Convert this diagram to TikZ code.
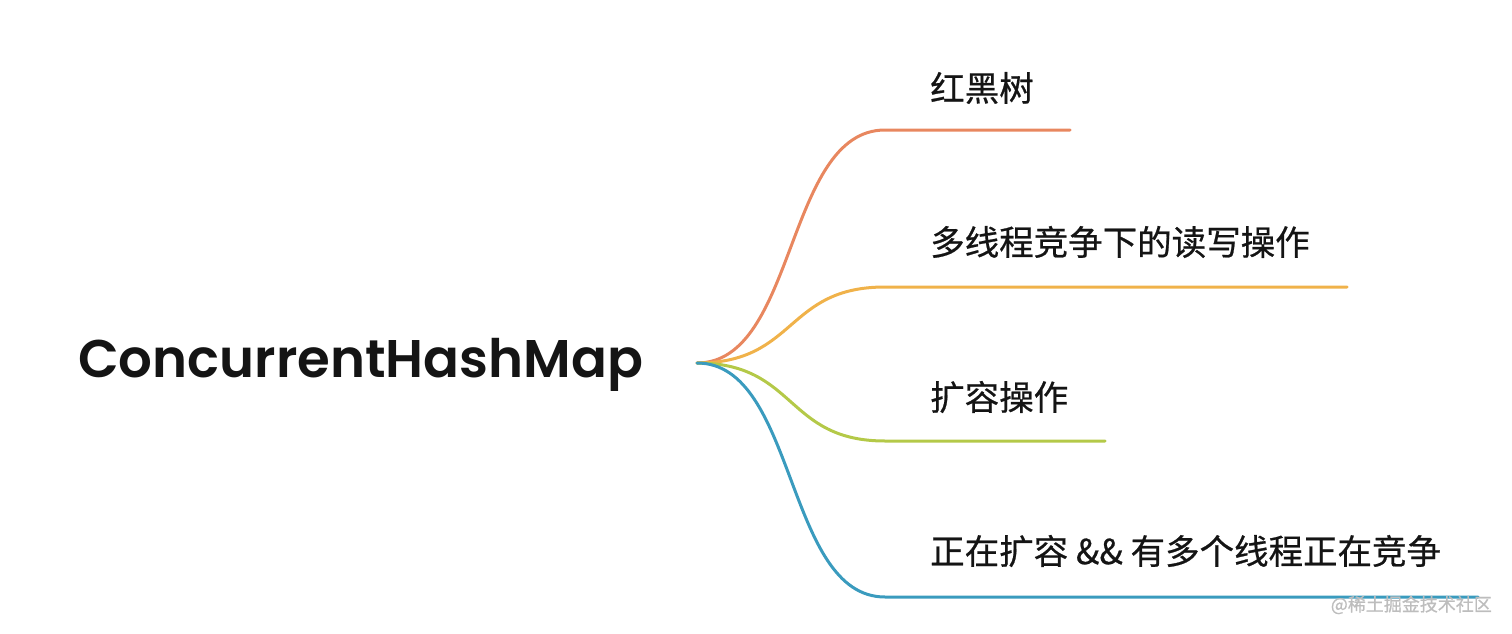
\documentclass[tikz,border=0pt]{standalone}
\usepackage{fontspec}
\usepackage{xcolor}
\usetikzlibrary{positioning,calc}
\newfontfamily\rootfont{Poppins}[UprightFont=* SemiBold]
\newfontfamily\cjk{Noto Sans CJK SC}[FakeBold=0.6]
\definecolor{Ink}{HTML}{141414}
\definecolor{Mark}{HTML}{BDBDBD}
\definecolor{Coral}{HTML}{E8875F}
\definecolor{Amber}{HTML}{F0B24A}
\definecolor{Lime}{HTML}{B4C948}
\definecolor{Teal}{HTML}{3A9BBE}
\tikzset{
  rootnode/.style={font=\rootfont\fontsize{53}{60}\selectfont,text=Ink,inner sep=0pt},
  leaf/.style={font=\cjk\fontsize{34.5}{40}\selectfont,text=Ink,inner sep=0pt,anchor=west},
  branch/.style={draw=#1,line width=3pt,line cap=round}
}

\begin{document}
\begin{tikzpicture}[x=1pt,y=-1pt]
  \useasboundingbox (0,0) rectangle (1512,634);
  \node[rootnode,anchor=west] (root) at (78,365) {ConcurrentHashMap};
  \coordinate (hub) at (697,363);
  % leaves
  \node[leaf] (rbt) at (930,88) {红黑树};
  \node[leaf] (rw) at (930,242) {多线程竞争下的读写操作};
  \node[leaf] (grow) at (930,397) {扩容操作};
  \node[leaf] (both) at (930,551) {正在扩容 \&\& 有多个线程正在竞争};
  \coordinate (rbtK) at (885,130);  \coordinate (rbtE) at (1070,130);
  \coordinate (rwK) at (885,287);   \coordinate (rwE) at (1347,287);
  \coordinate (growK) at (885,441); \coordinate (growE) at (1105,441);
  \coordinate (bothK) at (885,597); \coordinate (bothE) at (1478,597);
  % branches
  \draw[branch=Coral] (hub) .. controls +(100,0) and +(-100,0) .. (rbtK) -- (rbtE);
  \draw[branch=Amber] (hub) .. controls +(100,0) and +(-100,0) .. (rwK) -- (rwE);
  \draw[branch=Lime] (hub) .. controls +(100,0) and +(-100,0) .. (growK) -- (growE);
  \draw[branch=Teal] (hub) .. controls +(100,0) and +(-100,0) .. (bothK) -- (bothE);
  \node[font=\cjk\fontsize{18}{20}\selectfont,text=Mark,anchor=east,inner sep=0pt] (mark) at (1492,605) {@稀土掘金技术社区};
\end{tikzpicture}
\end{document}
